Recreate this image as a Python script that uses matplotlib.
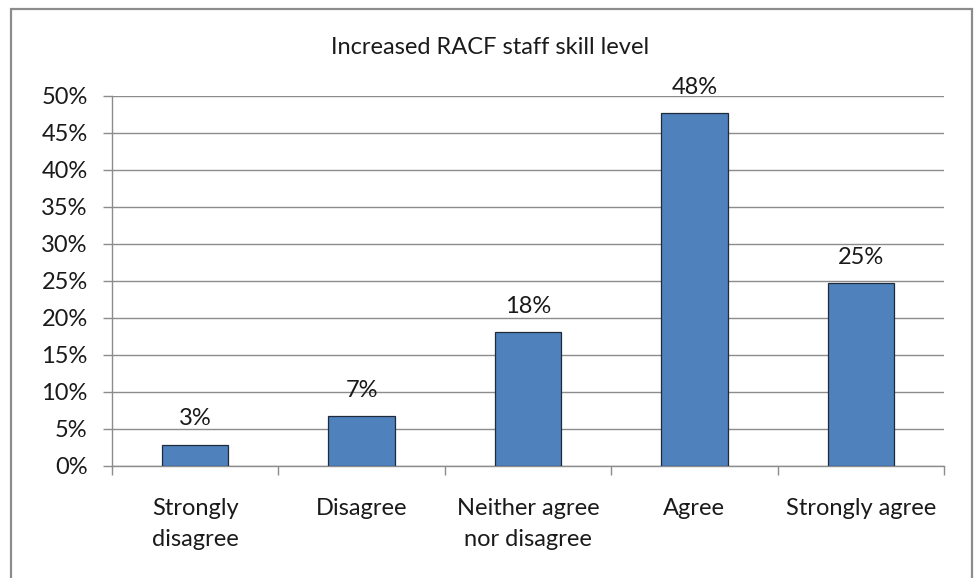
import matplotlib
matplotlib.use("Agg")
import matplotlib.pyplot as plt
from matplotlib.patches import Rectangle
import numpy as np

plt.rcParams['font.family'] = ['Lato', 'DejaVu Sans']

categories = ["Strongly\ndisagree", "Disagree", "Neither agree\nnor disagree", "Agree", "Strongly agree"]
values = [2.9, 6.7, 18.1, 47.6, 24.7]
yticks = [0, 5, 10, 15, 20, 25, 30, 35, 40, 45, 50]
title = "Increased RACF staff skill level"

W, H = 976, 578
FS = 17
TXT = "#1a1a1a"
fig = plt.figure(figsize=(W / 100, H / 100), dpi=100)
fig.patch.set_facecolor("white")

# outer chart frame
fig.patches.append(Rectangle((11 / W, -0.05), (972 - 11) / W, 1.05 - 9 / H,
                             transform=fig.transFigure, fill=False,
                             edgecolor="#8c8c8c", linewidth=1.6))

ax = fig.add_axes([112 / W, 1 - 466 / H, (944 - 112) / W, (466 - 95.7) / H])
x = np.arange(len(categories))
bars = ax.bar(x, values, width=0.4, color="#4F81BD", edgecolor="#1f2a3a",
              linewidth=0.9, zorder=3)

for xi, v in zip(x, values):
    ax.annotate(f"{v:.0f}%", (xi, v), xytext=(0, 11), textcoords="offset points",
                ha="center", va="bottom", fontsize=FS, color=TXT)

ax.set_xlim(-0.5, len(categories) - 0.5)
ax.set_ylim(0, 50)
ax.set_yticks(yticks)
ax.set_yticklabels([f"{t}%" for t in yticks])
ax.yaxis.grid(True, color="#8c8c8c", linewidth=1.0, zorder=0)
ax.set_axisbelow(True)

ax.set_xticks(x)
ax.set_xticklabels(categories, fontsize=FS, color=TXT, linespacing=1.6)
ax.set_xticks(np.arange(-0.5, len(categories)), minor=True)
ax.tick_params(axis="x", which="major", length=0, pad=23)
ax.tick_params(axis="x", which="minor", length=6.5, width=1, color="#8c8c8c", direction="out")
ax.tick_params(axis="y", length=6.5, width=1, color="#8c8c8c", labelsize=FS,
               labelcolor=TXT, pad=11)

for s in ["top", "right"]:
    ax.spines[s].set_visible(False)
for s in ["left", "bottom"]:
    ax.spines[s].set_color("#8c8c8c")
    ax.spines[s].set_linewidth(1.0)

fig.text(490 / W, 1 - 47 / H, title, ha="center", va="center", fontsize=FS, color=TXT)

fig.savefig("out.png", dpi=100)
